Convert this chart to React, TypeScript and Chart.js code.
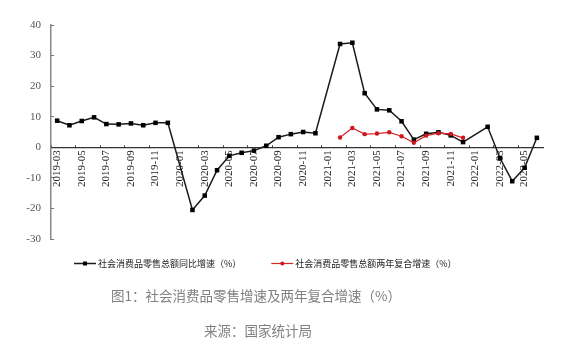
import React, { useEffect, useRef } from "react";
import { Chart, registerables } from "chart.js";

Chart.register(...registerables);

const months: string[] = [
  "2019-03", "2019-04", "2019-05", "2019-06", "2019-07", "2019-08", "2019-09", "2019-10", "2019-11", "2019-12",
  "2020-01", "2020-02", "2020-03", "2020-04", "2020-05", "2020-06", "2020-07", "2020-08", "2020-09", "2020-10", "2020-11", "2020-12",
  "2021-01", "2021-02", "2021-03", "2021-04", "2021-05", "2021-06", "2021-07", "2021-08", "2021-09", "2021-10", "2021-11", "2021-12",
  "2022-01", "2022-02", "2022-03", "2022-04", "2022-05", "2022-06",
];

const yoyGrowth: (number | null)[] = [
  8.7, 7.2, 8.6, 9.8, 7.6, 7.5, 7.8, 7.2, 8.0, 8.0,
  null, -20.5, -15.8, -7.5, -2.8, -1.8, -1.1, 0.5, 3.3, 4.3, 5.0, 4.6,
  null, 33.8, 34.2, 17.7, 12.4, 12.1, 8.5, 2.5, 4.4, 4.9, 3.9, 1.7,
  null, 6.7, -3.5, -11.1, -6.7, 3.1,
];

const twoYearGrowth: (number | null)[] = [
  null, null, null, null, null, null, null, null, null, null,
  null, null, null, null, null, null, null, null, null, null, null, null,
  null, 3.2, 6.3, 4.3, 4.5, 4.9, 3.6, 1.5, 3.8, 4.6, 4.4, 3.1,
  null, null, null, null, null, null,
];

const seriesNames = ["社会消费品零售总额同比增速（%）", "社会消费品零售总额两年复合增速（%）"];
const yTicks = { min: -30, max: 40, step: 10 };
const captionTitle = "图1：社会消费品零售增速及两年复合增速（%）";
const captionSource = "来源：国家统计局";

const cjk = '"Noto Sans CJK SC", "Noto Sans CJK JP", sans-serif';
const serif = "Liberation Serif";

const bottomTextPlugin = {
  id: "bottomText",
  afterDraw(chart: any) {
    const ctx: CanvasRenderingContext2D = chart.ctx;
    ctx.save();
    let x = 74;
    const y = 263;
    ctx.font = `9px ${cjk}`;
    ctx.textBaseline = "middle";
    ctx.textAlign = "left";
    chart.data.datasets.forEach((ds: any) => {
      ctx.strokeStyle = ds.borderColor;
      ctx.lineWidth = ds.borderWidth;
      ctx.beginPath();
      ctx.moveTo(x, y + 0.5);
      ctx.lineTo(x + 22, y + 0.5);
      ctx.stroke();
      ctx.fillStyle = ds.pointBackgroundColor;
      const cx = x + 11;
      if (ds.pointStyle === "rect") {
        ctx.fillRect(cx - 2, y - 1.5, 4, 4);
      } else {
        ctx.beginPath();
        ctx.arc(cx, y + 0.5, 2, 0, Math.PI * 2);
        ctx.fill();
      }
      ctx.fillStyle = "#222";
      ctx.fillText(ds.label, x + 24, y + 1);
      x += 24 + ctx.measureText(ds.label).width + 30;
    });
    ctx.textAlign = "center";
    ctx.fillStyle = "#808080";
    ctx.font = `13.5px ${cjk}`;
    ctx.fillText(captionTitle, 256, 296);
    ctx.fillText(captionSource, 258, 331);
    ctx.restore();
  },
};

export default function App() {
  const canvasRef = useRef<HTMLCanvasElement | null>(null);

  useEffect(() => {
    const canvas = canvasRef.current;
    if (!canvas) return;
    const chart = new Chart(canvas, {
      type: "line",
      data: {
        labels: months,
        datasets: [
          {
            label: seriesNames[0],
            data: yoyGrowth,
            order: 2,
            borderColor: "#1a1a1a",
            backgroundColor: "#1a1a1a",
            borderWidth: 1.5,
            pointStyle: "rect",
            pointRadius: 3.2,
            pointBackgroundColor: "#000",
            pointBorderColor: "#000",
            pointBorderWidth: 0,
            spanGaps: true,
            tension: 0,
          },
          {
            label: seriesNames[1],
            data: twoYearGrowth,
            order: 1,
            borderColor: "#d9262b",
            backgroundColor: "#d9262b",
            borderWidth: 1.2,
            pointStyle: "circle",
            pointRadius: 2.2,
            pointBackgroundColor: "#d0161c",
            pointBorderColor: "#d0161c",
            pointBorderWidth: 0,
            spanGaps: false,
            tension: 0,
          },
        ],
      },
      options: {
        animation: false,
        responsive: false,
        layout: { padding: { left: 0, top: 25, right: 36, bottom: 118 } },
        plugins: {
          legend: { display: false },
          tooltip: { enabled: false },
        },
        scales: {
          x: {
            type: "category",
            position: { y: 0 } as any,
            offset: true,
            grid: {
              display: true,
              offset: true,
              drawOnChartArea: false,
              drawTicks: true,
              tickLength: -3,
              tickColor: (c: any) => (c.index % 2 === 0 ? "#444" : "rgba(0,0,0,0)"),
              tickWidth: 1,
            },
            border: { display: true, color: "#333", width: 1.2 },
            ticks: {
              autoSkip: false,
              maxRotation: 90,
              minRotation: 90,
              padding: 6,
              color: "#222",
              font: { family: serif, size: 11 },
              callback: (_v: any, i: number) => (i % 2 === 0 ? months[i] : ""),
            },
          },
          y: {
            min: yTicks.min,
            max: yTicks.max,
            afterFit: (scale: any) => {
              scale.width = 51;
            },
            grid: {
              display: true,
              drawOnChartArea: false,
              drawTicks: true,
              tickLength: -3,
              tickColor: "#777",
              tickWidth: 1,
            },
            border: { display: true, color: "#888", width: 1.5 },
            ticks: {
              stepSize: yTicks.step,
              padding: 13,
              color: "#555",
              font: { family: serif, size: 11 },
            },
          },
        },
      },
      plugins: [bottomTextPlugin],
    });
    return () => chart.destroy();
  }, []);

  return (
    <div style={{ position: "fixed", left: 0, top: 0, width: 579, height: 357, background: "#fff" }}>
      <canvas ref={canvasRef} width={579} height={357} style={{ display: "block" }} />
    </div>
  );
}
